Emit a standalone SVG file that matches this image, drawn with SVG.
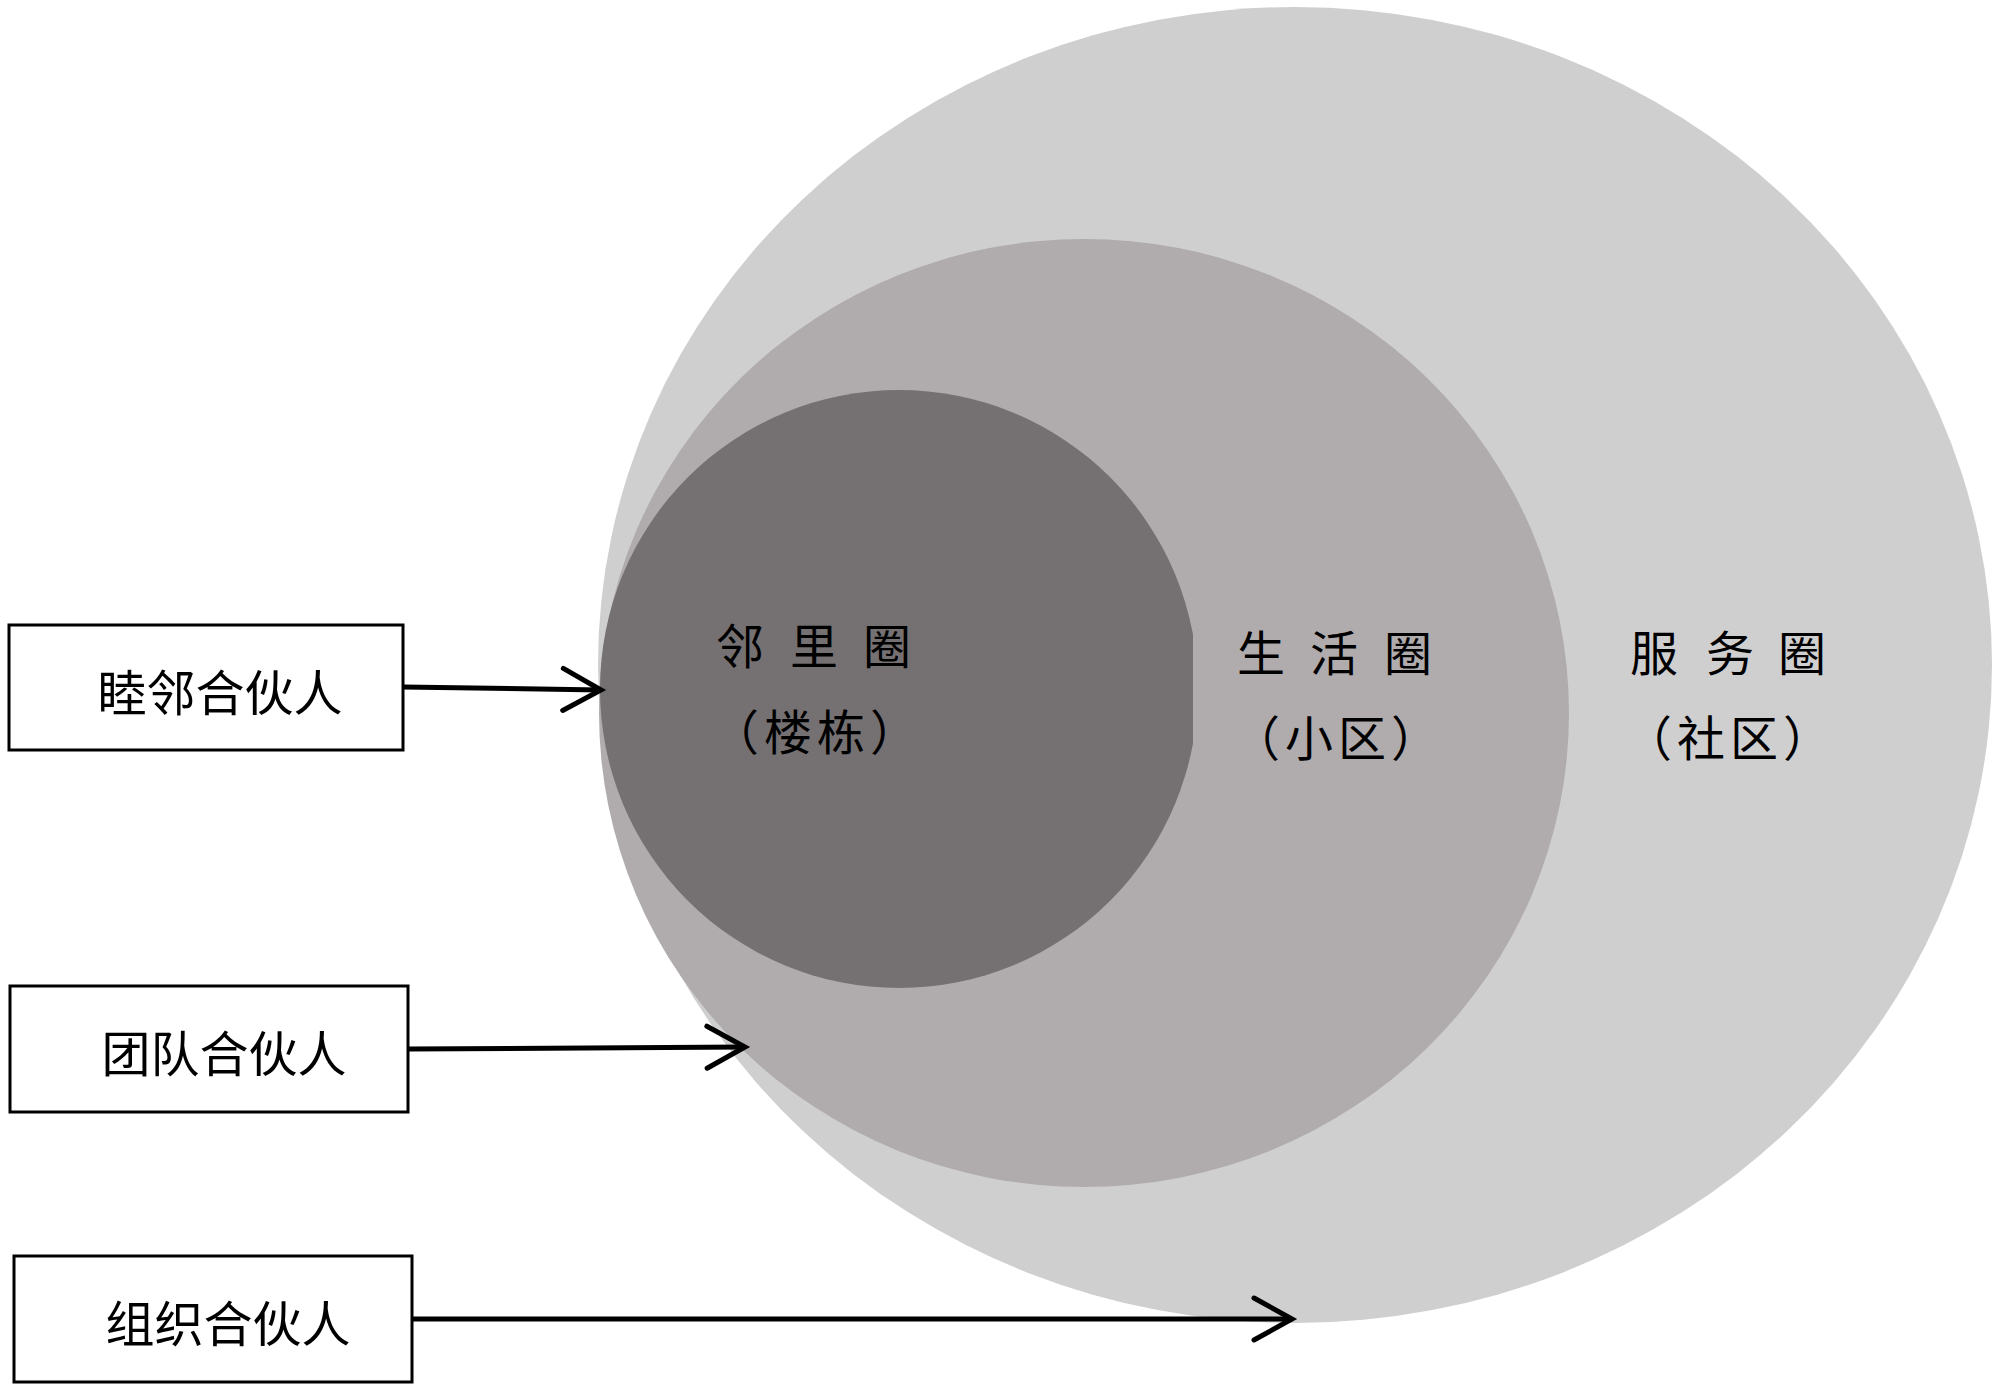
<svg xmlns="http://www.w3.org/2000/svg" width="2000" height="1391" viewBox="0 0 2000 1391">
  <style>
    .lbl { font-family: "Noto Sans CJK SC", "Noto Sans", sans-serif; font-size: 48px; fill: #000; text-anchor: middle; dominant-baseline: central; }
    .par { letter-spacing: 5px; }
    .box { fill: #fff; stroke: #000; stroke-width: 3; }
    .conn { stroke: #000; stroke-width: 5; fill: none; }
  </style>
  <defs>
    <marker id="arrow" markerUnits="userSpaceOnUse" markerWidth="60" markerHeight="60" viewBox="-45 -30 50 60" refX="0" refY="0" orient="auto">
      <path d="M -38 -21 L 0 0 L -38 21" fill="none" stroke="#000" stroke-width="5" stroke-linecap="round" stroke-linejoin="miter"/>
    </marker>
    <clipPath id="innerClip">
      <rect x="0" y="0" width="1193" height="1391"/>
    </clipPath>
  </defs>
  <rect x="0" y="0" width="2000" height="1391" fill="#fff"/>

  <g id="service-circle">
    <ellipse cx="1295" cy="665" rx="697" ry="658" fill="#d0cfd0"/>
  </g>
  <g id="life-circle">
    <ellipse cx="1084" cy="713" rx="485" ry="474" fill="#b0acad"/>
  </g>
  <g id="neighbor-circle">
    <ellipse cx="899" cy="689" rx="299" ry="299" fill="#757172" clip-path="url(#innerClip)"/>
  </g>

  <g id="neighbor-labels">
    <text class="lbl" x="740 777 814 850 887" y="643">邻 里 圈</text>
    <text class="lbl par" x="817" y="729">（楼栋）</text>
  </g>
  <g id="life-labels">
    <text class="lbl" x="1261 1297 1334 1371 1408" y="650">生 活 圈</text>
    <text class="lbl par" x="1338" y="735">（小区）</text>
  </g>
  <g id="service-labels">
    <text class="lbl" x="1654 1692 1730 1766 1802" y="650">服 务 圈</text>
    <text class="lbl par" x="1730" y="735">（社区）</text>
  </g>

  <g id="box-neighbor-partner">
    <rect class="box" x="9" y="625" width="394" height="125"/>
    <text class="lbl" x="220" y="689" style="font-size:49px">睦邻合伙人</text>
  </g>
  <g id="box-team-partner">
    <rect class="box" x="10" y="986" width="398" height="126"/>
    <text class="lbl" x="224" y="1050" style="font-size:49px">团队合伙人</text>
  </g>
  <g id="box-org-partner">
    <rect class="box" x="14" y="1256" width="398" height="126"/>
    <text class="lbl" x="228" y="1320" style="font-size:49px">组织合伙人</text>
  </g>

  <g id="connectors">
    <line class="conn" x1="403" y1="687" x2="601" y2="690" marker-end="url(#arrow)"/>
    <line class="conn" x1="408" y1="1049" x2="745" y2="1047" marker-end="url(#arrow)"/>
    <line class="conn" x1="412" y1="1319" x2="1292" y2="1319" marker-end="url(#arrow)"/>
  </g>
</svg>
